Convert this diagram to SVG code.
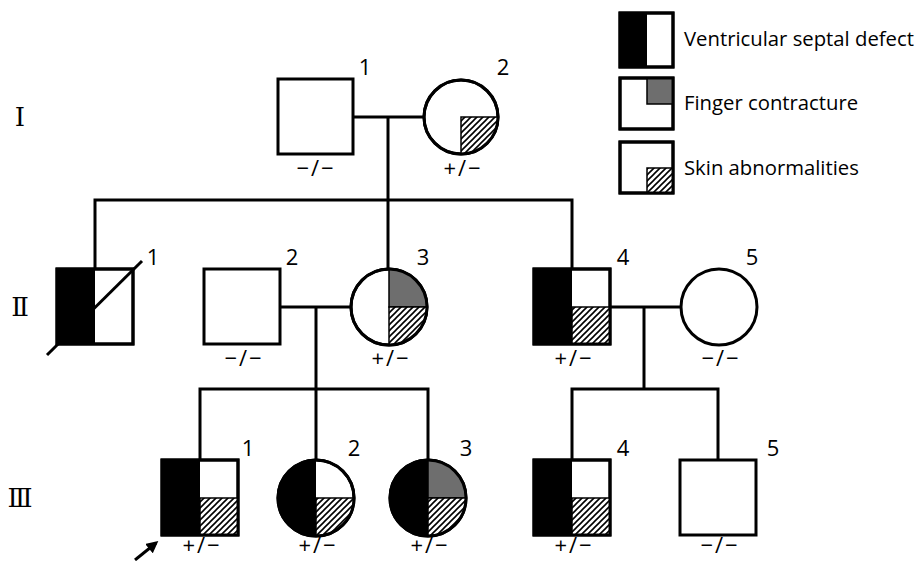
<svg xmlns="http://www.w3.org/2000/svg" width="919" height="561" viewBox="0 0 919 561">
<defs>
  <pattern id="hatch" patternUnits="userSpaceOnUse" width="6" height="6">
    <rect width="6" height="6" fill="#fff"/>
    <path d="M-1.5,1.5 L1.5,-1.5 M0,6 L6,0 M4.5,7.5 L7.5,4.5" stroke="#000" stroke-width="1.6"/>
  </pattern>
  <marker id="arrow" markerWidth="12" markerHeight="12" refX="9" refY="6" orient="auto" markerUnits="userSpaceOnUse">
    <path d="M0,0 L12,6 L0,12 Z" fill="#000"/>
  </marker>
</defs>
<style>
  .node { fill: #fff; stroke: #000; stroke-width: 3; }
  .blk { fill: #000; }
  .gry { fill: #6e6e6e; stroke: #000; stroke-width: 1.5; }
  .hat { fill: url(#hatch); stroke: #000; stroke-width: 1.5; }
  .ol { fill: none; stroke: #000; stroke-width: 3; }
  .line { fill: none; stroke: #000; stroke-width: 3; }
  .num { font-family: "Open Sans", "Liberation Sans", sans-serif; font-size: 22px; text-anchor: middle; fill: #000; }
  .geno { font-family: "Open Sans", "Liberation Sans", sans-serif; font-size: 22px; letter-spacing: 2px; text-anchor: middle; fill: #000; }
  .gen { font-family: "DejaVu Serif", "Liberation Serif", serif; font-size: 26px; text-anchor: middle; fill: #000; }
  .leg { font-family: "Open Sans", "Liberation Sans", sans-serif; font-size: 20.3px; fill: #000; }
</style>

<!-- generation labels -->
<text class="gen" x="20" y="126">Ⅰ</text>
<text class="gen" x="20" y="316">Ⅱ</text>
<text class="gen" x="20" y="507">Ⅲ</text>

<!-- connectors -->
<g id="connectors" class="line">
  <path d="M352,117 H423"/>
  <path d="M388,117 V200"/>
  <path d="M95,269 V200 H572 V269"/>
  <path d="M388,200 V269"/>
  <path d="M280,307 H351"/>
  <path d="M316,307 V389"/>
  <path d="M200,460 V389 H428 V460"/>
  <path d="M316,389 V460"/>
  <path d="M610,307 H681"/>
  <path d="M644,307 V389"/>
  <path d="M572,460 V389 H718 V460"/>
  <path d="M135,560 L156,543" marker-end="url(#arrow)"/>
</g>

<!-- Generation I -->
<g id="I-1">
  <rect class="node" x="278" y="79" width="75" height="75"/>
  <text class="num" x="365" y="75">1</text>
  <text class="geno" x="316" y="176">−/−</text>
</g>
<g id="I-2">
  <circle class="node" cx="461" cy="117" r="37"/>
  <path class="hat" d="M461,117 H498 A37,37 0 0 1 461,154 Z"/>
  <circle class="ol" cx="461" cy="117" r="37"/>
  <text class="num" x="503" y="75">2</text>
  <text class="geno" x="463" y="176">+/−</text>
</g>

<!-- Generation II -->
<g id="II-1">
  <rect class="node" x="57" y="269" width="76" height="75"/>
  <rect class="blk" x="57" y="269" width="38" height="75"/>
  <rect class="ol" x="57" y="269" width="76" height="75"/>
  <path class="line" d="M47,355 L142,261" stroke-width="4"/>
  <text class="num" x="153" y="265">1</text>
</g>
<g id="II-2">
  <rect class="node" x="204" y="269" width="76" height="75"/>
  <text class="num" x="292" y="265">2</text>
  <text class="geno" x="244" y="366">−/−</text>
</g>
<g id="II-3">
  <circle class="node" cx="389" cy="307" r="38"/>
  <path class="gry" d="M389,307 V269 A38,38 0 0 1 427,307 Z"/>
  <path class="hat" d="M389,307 H427 A38,38 0 0 1 389,345 Z"/>
  <circle class="ol" cx="389" cy="307" r="38"/>
  <text class="num" x="423" y="265">3</text>
  <text class="geno" x="391" y="366">+/−</text>
</g>
<g id="II-4">
  <rect class="node" x="534" y="269" width="76" height="75"/>
  <rect class="blk" x="534" y="269" width="38" height="75"/>
  <rect class="hat" x="572" y="307" width="38" height="37"/>
  <rect class="ol" x="534" y="269" width="76" height="75"/>
  <text class="num" x="623" y="265">4</text>
  <text class="geno" x="574" y="366">+/−</text>
</g>
<g id="II-5">
  <circle class="node" cx="719" cy="307" r="38"/>
  <text class="num" x="752" y="265">5</text>
  <text class="geno" x="721" y="366">−/−</text>
</g>

<!-- Generation III -->
<g id="III-1">
  <rect class="node" x="162" y="460" width="76" height="75"/>
  <rect class="blk" x="162" y="460" width="38" height="75"/>
  <rect class="hat" x="200" y="498" width="38" height="37"/>
  <rect class="ol" x="162" y="460" width="76" height="75"/>
  <text class="num" x="248" y="456">1</text>
  <text class="geno" x="202" y="553">+/−</text>
</g>
<g id="III-2">
  <circle class="node" cx="316" cy="498" r="38"/>
  <path class="blk" d="M316,460 A38,38 0 0 0 316,536 Z"/>
  <path class="hat" d="M316,498 H354 A38,38 0 0 1 316,536 Z"/>
  <circle class="ol" cx="316" cy="498" r="38"/>
  <text class="num" x="354" y="456">2</text>
  <text class="geno" x="318" y="553">+/−</text>
</g>
<g id="III-3">
  <circle class="node" cx="428" cy="498" r="38"/>
  <path class="blk" d="M428,460 A38,38 0 0 0 428,536 Z"/>
  <path class="gry" d="M428,498 V460 A38,38 0 0 1 466,498 Z"/>
  <path class="hat" d="M428,498 H466 A38,38 0 0 1 428,536 Z"/>
  <circle class="ol" cx="428" cy="498" r="38"/>
  <text class="num" x="466" y="456">3</text>
  <text class="geno" x="430" y="553">+/−</text>
</g>
<g id="III-4">
  <rect class="node" x="534" y="460" width="76" height="75"/>
  <rect class="blk" x="534" y="460" width="38" height="75"/>
  <rect class="hat" x="572" y="498" width="38" height="37"/>
  <rect class="ol" x="534" y="460" width="76" height="75"/>
  <text class="num" x="623" y="456">4</text>
  <text class="geno" x="574" y="553">+/−</text>
</g>
<g id="III-5">
  <rect class="node" x="680" y="460" width="76" height="75"/>
  <text class="num" x="773" y="456">5</text>
  <text class="geno" x="720" y="553">−/−</text>
</g>

<!-- Legend -->
<g id="legend">
  <rect class="node" x="620" y="13" width="53" height="54"/>
  <rect class="blk" x="620" y="13" width="27" height="54"/>
  <rect class="ol" x="620" y="13" width="53" height="54"/>
  <text class="leg" x="684" y="46">Ventricular septal defect</text>

  <rect class="node" x="620" y="78" width="53" height="51"/>
  <rect class="gry" x="647" y="78" width="26" height="26"/>
  <rect class="ol" x="620" y="78" width="53" height="51"/>
  <text class="leg" x="684" y="110">Finger contracture</text>

  <rect class="node" x="620" y="142" width="53" height="51"/>
  <rect class="hat" x="647" y="168" width="26" height="25"/>
  <rect class="ol" x="620" y="142" width="53" height="51"/>
  <text class="leg" x="684" y="175">Skin abnormalities</text>
</g>
</svg>
